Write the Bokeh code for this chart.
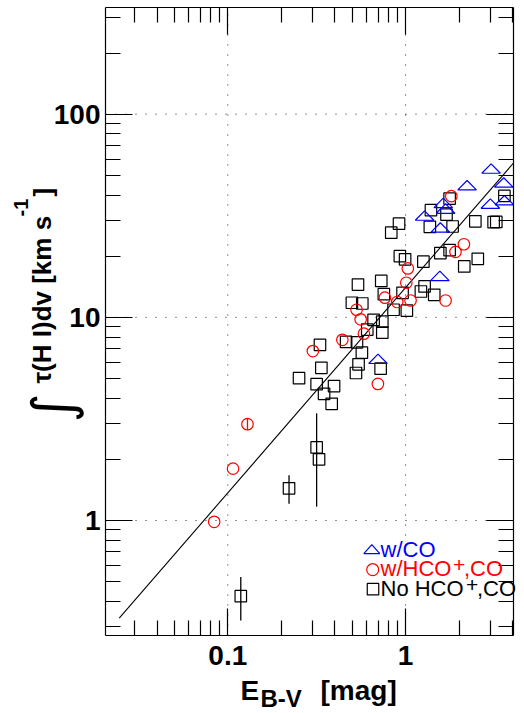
import math
from bokeh.plotting import figure
from bokeh.models import LogAxis, FixedTicker, Label, CustomJSTickFormatter
from bokeh.embed import file_html
from bokeh.resources import INLINE

# ---------------- data ----------------
# w/CO (blue triangles)
co_ebv = [3.03, 2.22, 3.57, 1.63, 1.68, 1.28, 3.00, 3.60, 1.57, 1.56, 0.70]
co_tau = [54.0, 44.7, 46.1, 36.6, 34.3, 31.7, 36.3, 37.7, 27.7, 16.0, 6.25]

# w/HCO+,CO (red circles)
hco_ebv = [1.81, 2.13, 1.91, 1.03, 1.01, 0.765, 0.898, 1.067, 1.68, 0.530,
           0.559, 0.583, 0.441, 0.301, 0.699, 0.129, 0.107, 0.0838]
hco_tau = [39.5, 22.9, 21.0, 17.4, 14.8, 12.5, 11.9, 12.1, 12.1, 10.9,
           9.78, 8.31, 7.75, 6.82, 4.70, 2.98, 1.80, 0.985]

# No HCO+,CO (black squares)
no_ebv = [1.77, 1.39, 1.70, 0.919, 0.831, 1.37, 1.84, 2.47, 3.13, 3.24,
          3.60, 1.57, 1.77, 0.929, 0.994, 1.26, 2.55, 2.14, 0.540, 0.730,
          1.28, 1.22, 1.45, 0.962, 0.755, 0.499, 0.571, 0.856, 1.017, 0.661,
          0.740, 0.740, 0.609, 0.463, 0.533, 0.330, 0.568, 0.544, 0.526, 0.724,
          0.336, 0.2516, 0.316, 0.396, 0.348, 0.384, 0.316, 0.326, 0.221, 0.1183]
no_tau = [38.4, 33.7, 32.0, 28.9, 26.1, 27.9, 28.0, 29.7, 29.4, 29.5,
          39.6, 20.7, 21.4, 20.0, 19.3, 18.8, 19.4, 17.8, 14.5, 15.1,
          14.2, 13.4, 12.9, 13.2, 13.0, 11.8, 11.7, 10.9, 10.8, 9.72,
          9.52, 8.41, 8.70, 7.57, 7.53, 7.32, 6.70, 5.87, 5.32, 5.59,
          5.64, 5.02, 4.69, 4.59, 4.20, 3.75, 2.29, 2.00, 1.44, 0.424]

# large error bars
err_ebv = [0.316, 0.221, 0.1183, 0.129]
err_lo = [1.17, 1.21, 0.322, 2.80]
err_hi = [3.37, 1.67, 0.527, 3.18]
err_col = ["black", "black", "black", "red"]

# power-law fit  tau = norm * E^slope
fit_norm = 14.0
fit_slope = 1.01
fit_ebv = [0.0245, 4.05]
fit_tau = [fit_norm * e ** fit_slope for e in fit_ebv]

# axes
x_lo, x_hi = 0.0205, 4.05
y_lo, y_hi = 0.2716, 335.0
x_major = [0.1, 1]
y_major = [1, 10, 100]
x_minor = [m * d for d in (0.01, 0.1, 1) for m in range(2, 10) if x_lo < m * d < x_hi]
y_minor = [m * d for d in (0.1, 1, 10, 100) for m in range(2, 10) if y_lo < m * d < y_hi]

# ---------------- layout geometry (pixels) ----------------
W, H = 524, 713
L, R, T, B = 105, 11, 7, 78          # plot box inside the canvas
fw, fh = W - L - R, H - T - B
ppd_x = fw / math.log10(x_hi / x_lo)
ppd_y = fh / math.log10(y_hi / y_lo)

def xm(px):
    return 10 ** (px / ppd_x)

def ym(px):
    return 10 ** (px / ppd_y)

# full-canvas data ranges, so the plot box sits at [L, W-R] x [T, H-B]
X0, X1 = x_lo / xm(L), x_hi * xm(R)
Y0, Y1 = y_lo / ym(B), y_hi * ym(T)

p = figure(width=W, height=H, x_axis_type="log", y_axis_type="log",
           x_axis_location=None, y_axis_location=None,
           x_range=(X0, X1), y_range=(Y0, Y1),
           output_backend="svg", toolbar_location=None,
           min_border=0, min_border_left=0, min_border_right=0,
           min_border_top=0, min_border_bottom=0)
p.outline_line_color = None
p.background_fill_color = "white"
p.border_fill_color = "white"
p.xgrid.visible = False
p.ygrid.visible = False

FONT = "Liberation Sans"

def make_axis(side, ticks, minor, show, loc, bounds):
    ax = LogAxis(fixed_location=loc, bounds=bounds)
    ax.ticker = FixedTicker(ticks=ticks, minor_ticks=minor)
    ax.axis_line_color = "black"
    ax.axis_line_width = 1.2
    ax.major_tick_in = 27
    ax.major_tick_out = 0
    ax.minor_tick_in = 15
    ax.minor_tick_out = 0
    ax.major_tick_line_color = "black"
    ax.minor_tick_line_color = "black"
    ax.major_tick_line_width = 1.2
    ax.minor_tick_line_width = 1.2
    if show:
        ax.formatter = CustomJSTickFormatter(code="return tick.toString();")
        ax.major_label_text_font = FONT
        ax.major_label_text_font_style = "bold"
        ax.major_label_text_font_size = "28px"
        ax.major_label_text_color = "black"
    else:
        ax.formatter = CustomJSTickFormatter(code="return '';")
        ax.major_label_text_font_size = "0px"
        ax.major_label_standoff = 0
    p.add_layout(ax, side)
    return ax

bx = make_axis("below", x_major, x_minor, True, y_lo, (x_lo, x_hi))
bx.major_label_standoff = 10
ly = make_axis("left", y_major, y_minor, True, x_lo, (y_lo, y_hi))
ly.major_label_standoff = 5
make_axis("above", x_major, x_minor, False, y_hi, (x_lo, x_hi))
make_axis("right", y_major, y_minor, False, x_hi, (y_lo, y_hi))

# dotted grid at the major ticks, limited to the plot box
p.segment(x0=x_major, y0=[y_lo] * len(x_major), x1=x_major, y1=[y_hi] * len(x_major),
          line_color="#222222", line_width=1, line_dash="1 9")
p.segment(x0=[x_lo] * len(y_major), y0=y_major, x1=[x_hi] * len(y_major), y1=y_major,
          line_color="#222222", line_width=1, line_dash="1 9")

def img_to_data(ix, iy):
    return X0 * xm(ix), Y0 * ym(H - iy)

# fit line
p.line(fit_ebv, fit_tau, line_color="black", line_width=1.1)

# error bars
p.segment(x0=err_ebv, y0=err_lo, x1=err_ebv, y1=err_hi, line_color=err_col, line_width=1.3)

# markers
p.scatter(no_ebv, no_tau, marker="square", size=11.5, fill_color=None,
          line_color="black", line_width=1.2)
p.scatter(hco_ebv, hco_tau, marker="circle", size=11.5, fill_color=None,
          line_color="red", line_width=1.2)
TW, TH = 9.3, 4.7
tri_xs = [[x / xm(TW), x, x * xm(TW)] for x in co_ebv]
tri_ys = [[y / ym(TH), y * ym(TH), y / ym(TH)] for y in co_tau]
p.patches(tri_xs, tri_ys, fill_color=None, line_color="blue", line_width=1.2)

# legend symbols
lx, lyy = img_to_data(371.3, 548.7)
p.patches([[lx / xm(8), lx, lx * xm(8)]], [[lyy / ym(4.5), lyy * ym(4.5), lyy / ym(4.5)]],
          fill_color=None, line_color="blue", line_width=1.2)
cx, cy = img_to_data(372.2, 569.2)
p.scatter([cx], [cy], marker="circle", size=12, fill_color=None, line_color="red", line_width=1.2)
sx, sy = img_to_data(372.5, 588.7)
p.scatter([sx], [sy], marker="square", size=11.5, fill_color=None, line_color="black", line_width=1.2)

# ---------------- text labels (screen px from canvas bottom-left) ----------------
def lab(text, ix, iy, size, color="black", bold=False, angle=0.0, align="left",
        font=FONT, style=None):
    if style is None:
        style = "bold" if bold else "normal"
    p.add_layout(Label(x=ix, y=H - iy, x_units="screen", y_units="screen",
                       text=text, text_font=font, text_font_size=size,
                       text_font_style=style,
                       text_color=color, angle=angle, text_align=align,
                       text_baseline="alphabetic"))

# legend text (y = visual centre of capitals)
lab("w/CO", 380, 549, "22px", color="blue")
lab("w/HCO", 380, 567.5, "22px", color="red")
lab("+", 452.5, 564.5, "21px", color="red")
lab(",CO", 463.5, 567.5, "22px", color="red")
lab("No HCO", 380, 587.5, "22px")
lab("+", 465.5, 584.5, "21px")
lab(",CO", 476.5, 587.5, "22px")

# x axis title
lab("E", 240, 690, "28px", bold=True)
lab("B-V", 260, 698, "24px", bold=True)
lab("[mag]", 320, 690, "28px", bold=True)

# y axis title (rotated, reads bottom to top)
V = math.pi / 2
lab("\u222b", 52, 422, "56px", angle=V, font="DejaVu Sans", style="italic")
lab("\u03c4(H I)dv [km s", 41, 383, "26px", bold=True, angle=V)
lab("-1", 20, 216, "20px", bold=True, angle=V)
lab("]", 42, 196, "26px", bold=True, angle=V)

open("out.html", "w").write(file_html(p, INLINE))
